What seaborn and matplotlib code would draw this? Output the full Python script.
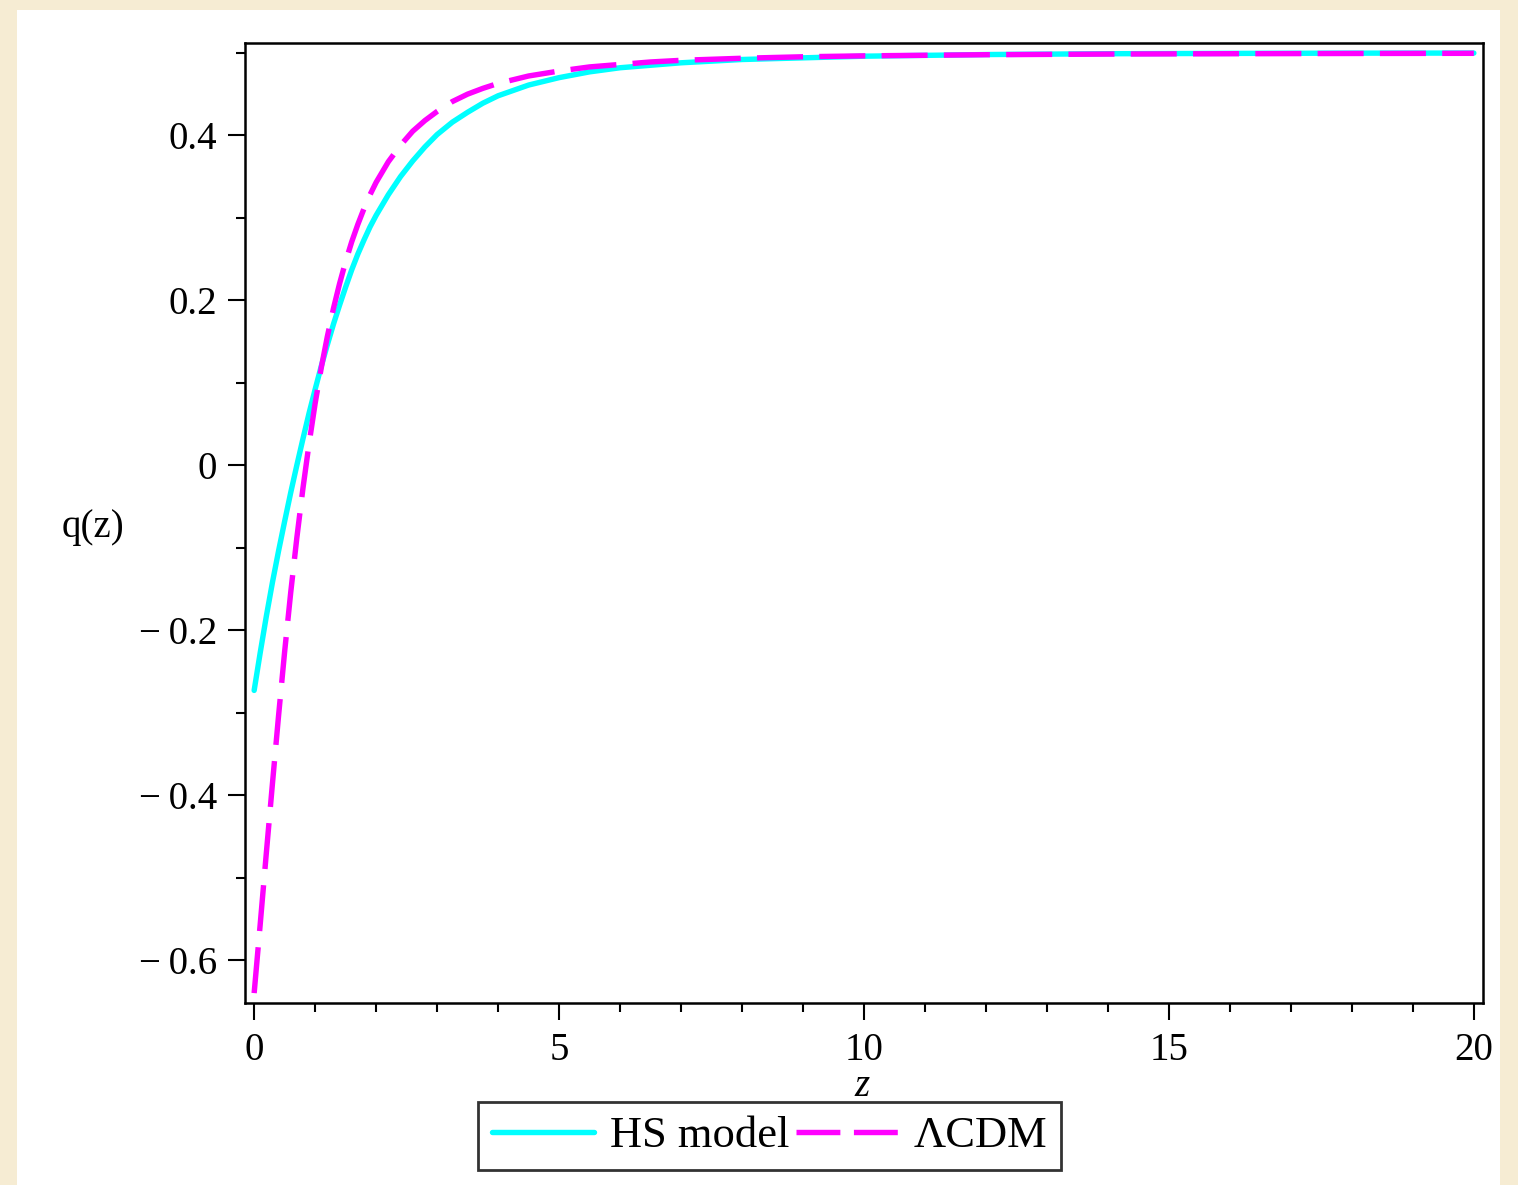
import numpy as np
import pandas as pd
import matplotlib
matplotlib.use("Agg")
import matplotlib.pyplot as plt
from matplotlib.ticker import MultipleLocator, FuncFormatter
from matplotlib.patches import Rectangle
from matplotlib.lines import Line2D
import seaborn as sns

# ---- data ----
z_vals = [0, 0.1, 0.2, 0.3, 0.4, 0.5, 0.6, 0.7, 0.8, 0.9, 1.0, 1.1, 1.2, 1.3, 1.4,
          1.5, 1.6, 1.7, 1.8, 1.9, 2.0, 2.2, 2.4, 2.6, 2.8, 3.0, 3.25, 3.5, 3.75,
          4.0, 4.5, 5.0, 5.5, 6.0, 6.5, 7.0, 8.0, 9.0, 10, 12, 14, 16, 18, 20]
q_hs = [-0.273, -0.227, -0.183, -0.142, -0.104, -0.068, -0.033, 0.000, 0.032, 0.063,
        0.092, 0.120, 0.146, 0.171, 0.194, 0.216, 0.237, 0.256, 0.273, 0.289, 0.303,
        0.328, 0.350, 0.369, 0.386, 0.401, 0.416, 0.428, 0.439, 0.448, 0.461, 0.470,
        0.477, 0.482, 0.485, 0.488, 0.492, 0.494, 0.496, 0.498, 0.499, 0.4994,
        0.4997, 0.4998]
q_lcdm = [-0.640, -0.556, -0.470, -0.386, -0.304, -0.226, -0.154, -0.088, -0.028, 0.026,
          0.075, 0.118, 0.156, 0.190, 0.220, 0.247, 0.271, 0.292, 0.311, 0.328, 0.343,
          0.368, 0.388, 0.405, 0.418, 0.429, 0.441, 0.450, 0.457, 0.463, 0.472, 0.478,
          0.483, 0.486, 0.489, 0.491, 0.4935, 0.4953, 0.4964, 0.4978, 0.4986, 0.4990,
          0.4993, 0.4995]
series_names = ["HS model", "\u039bCDM"]
x_ticks = [0, 5, 10, 15, 20]
y_ticks = [-0.6, -0.4, -0.2, 0, 0.2, 0.4]

df = pd.DataFrame({"z": z_vals + z_vals,
                   "q": q_hs + q_lcdm,
                   "model": [series_names[0]] * len(z_vals) + [series_names[1]] * len(z_vals)})

sns.set_style("white")
plt.rcParams["font.family"] = ["Liberation Serif", "DejaVu Serif"]
plt.rcParams["text.color"] = "black"
plt.rcParams["xtick.color"] = "black"
plt.rcParams["ytick.color"] = "black"

W, H = 1518, 1185
fig = plt.figure(figsize=(W / 100, H / 100), dpi=100)
fig.patch.set_facecolor("#F6ECD3")
bg = Rectangle((17 / W, 0), (1500 - 17) / W, 1 - 10 / H,
               transform=fig.transFigure, facecolor="white",
               edgecolor="none", zorder=-10)
fig.add_artist(bg)

ax = fig.add_axes([245 / W, 1 - 1003 / H, (1483 - 245) / W, (1003 - 43) / H])
ax.set_zorder(1)
ax.set_facecolor("white")

colors = {series_names[0]: "#00FFFF", series_names[1]: "#FF00FF"}
sns.lineplot(data=df[df["model"] == series_names[0]], x="z", y="q", ax=ax,
             color=colors[series_names[0]], linewidth=3.9, legend=False)
sns.lineplot(data=df[df["model"] == series_names[1]], x="z", y="q", ax=ax,
             color=colors[series_names[1]], linewidth=3.9, legend=False)
ax.lines[-1].set_dashes((8.5, 3.0))

ax.set_xlim(-0.15, 20.15)
ax.set_ylim(-0.652, 0.512)

for s in ax.spines.values():
    s.set_linewidth(1.8)
    s.set_color("black")

ax.set_xticks(x_ticks)
ax.set_yticks(y_ticks)
ax.xaxis.set_minor_locator(MultipleLocator(1))
ax.yaxis.set_minor_locator(MultipleLocator(0.1))

def yfmt(v, pos):
    if abs(v) < 1e-9:
        return "0"
    if v < 0:
        return "\u2212\u2009" + f"{-v:.1f}"
    return f"{v:.1f}"

ax.yaxis.set_major_formatter(FuncFormatter(yfmt))
ax.tick_params(axis="both", which="major", direction="out", length=12, width=1.5,
               labelsize=28, pad=8, colors="black", bottom=True, left=True,
               top=False, right=False)
ax.tick_params(axis="x", which="major", pad=9)
ax.tick_params(axis="both", which="minor", direction="out", length=6.5, width=1.5,
               colors="black", bottom=True, left=True, top=False, right=False)

ax.set_xlabel("")
ax.set_ylabel("")
fig.text(862 / W, 1 - 1087 / H, "z", fontsize=28, style="italic", ha="center", va="center",
         color="black")
fig.text(93 / W, 1 - 527 / H, "q(z)", fontsize=28, ha="center", va="center", color="black")

handles = [Line2D([], [], color=colors[series_names[0]], linewidth=3.9),
           Line2D([], [], color=colors[series_names[1]], linewidth=3.9, dashes=(8.1, 2.5))]
leg = fig.legend(handles, series_names, loc="center",
                 bbox_to_anchor=(769.5 / W, 1 - 1136 / H), ncol=2, fontsize=32,
                 frameon=True, fancybox=False, handlelength=2.3, handletextpad=0.35,
                 columnspacing=0.15, borderpad=0.32, borderaxespad=0)
leg.get_frame().set_edgecolor("black")
leg.get_frame().set_linewidth(2.0)
for t in leg.get_texts():
    t.set_color("black")

fig.savefig("out.png", dpi=100, facecolor=fig.get_facecolor())
